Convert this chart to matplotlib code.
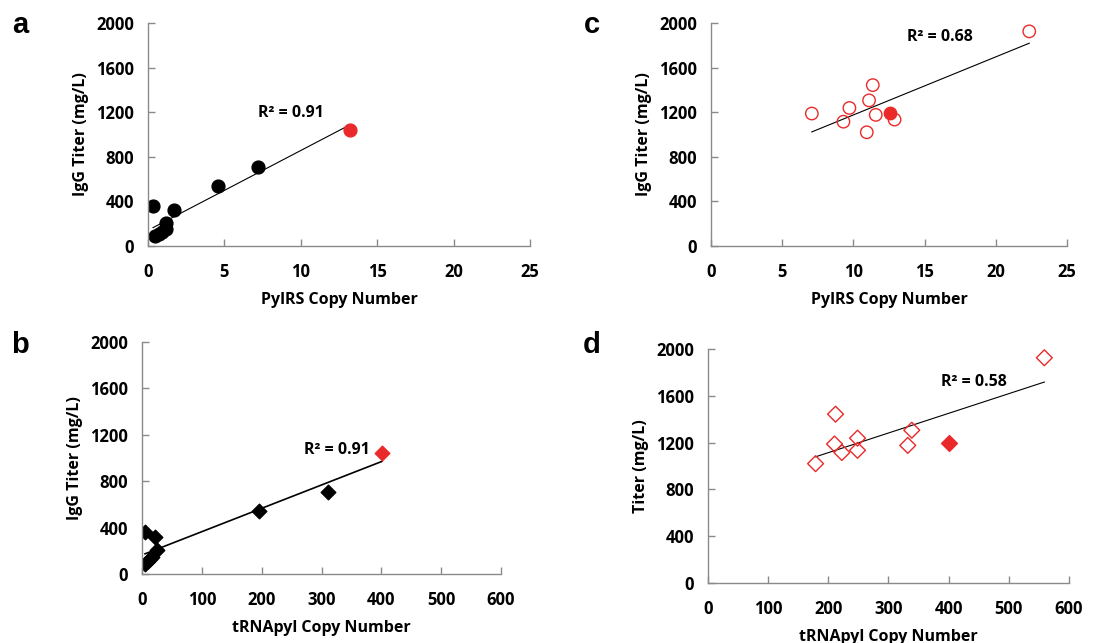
import numpy as np
import matplotlib
matplotlib.use("Agg")
import matplotlib.pyplot as plt

plt.rcParams['font.family'] = ['Open Sans', 'DejaVu Sans']
plt.rcParams['font.weight'] = 'bold'

# Panels a/b: low-titer clones (IgG mg/L), last one is the highlighted clone
ab_titer = [360, 90, 110, 130, 150, 210, 320, 540, 710, 1040]
a_pylrs = [0.33, 0.46, 0.7, 0.9, 1.15, 1.2, 1.7, 4.6, 7.2, 13.2]
b_trna = [5.5, 5.0, 10, 14, 17, 25, 21, 196, 311, 401]

# Panels c/d: high-titer clones, last one is the highlighted clone
cd_titer = [1188, 1115, 1238, 1020, 1306, 1443, 1176, 1134, 1925, 1193]
c_pylrs = [7.08, 9.3, 9.72, 10.94, 11.1, 11.36, 11.57, 12.89, 22.35, 12.58]
d_trna = [210.3, 222.5, 248.5, 178.8, 338.7, 212.0, 332.0, 248.5, 559.0, 400.0]

r2_text = {"a": "R² = 0.91", "b": "R² = 0.91", "c": "R² = 0.68", "d": "R² = 0.58"}

RED = "#ea2a2a"
GREY = "#8a8a8a"
W, H = 1119, 643
FS = 11.5
TFS = 12


def px_axes(fig, left, right, top, bottom):
    return fig.add_axes([left / W, 1 - bottom / H, (right - left) / W, (bottom - top) / H])


def style(ax, xmax, xstep, xlabel, ylabel):
    ax.set_xlim(0, xmax)
    ax.set_ylim(0, 2000)
    xt = np.arange(0, xmax + 1, xstep)
    yt = np.arange(0, 2001, 400)
    ax.set_xticks(xt, labels=[str(v) for v in xt], fontweight="bold", fontsize=TFS)
    ax.set_yticks(yt, labels=[str(v) for v in yt], fontweight="bold", fontsize=TFS)
    for s in ["top", "right"]:
        ax.spines[s].set_visible(False)
    for s in ["left", "bottom"]:
        ax.spines[s].set_color(GREY)
        ax.spines[s].set_linewidth(1.0)
    ax.tick_params(axis="both", direction="in", length=5, width=1, color=GREY)
    ax.tick_params(axis="x", pad=12)
    ax.tick_params(axis="y", pad=10)
    ax.set_xlabel(xlabel, fontsize=FS, fontweight="bold", labelpad=8)
    ax.set_ylabel(ylabel, fontsize=FS, fontweight="bold", labelpad=5)


def trend(ax, x, y, lw=0.8):
    x = np.asarray(x, float)
    y = np.asarray(y, float)
    k, b = np.polyfit(x, y, 1)
    xs = np.array([x.min(), x.max()])
    ax.plot(xs, k * xs + b, color="black", lw=lw, zorder=1)


fig = plt.figure(figsize=(W / 100, H / 100), dpi=100)

# a
ax = px_axes(fig, 148, 530, 23, 246)
trend(ax, a_pylrs, ab_titer)
ax.scatter(a_pylrs[:-1], ab_titer[:-1], s=85, color="black", zorder=2)
ax.scatter(a_pylrs[-1:], ab_titer[-1:], s=85, color=RED, zorder=2)
style(ax, 25, 5, "PylRS Copy Number", "IgG Titer (mg/L)")
ax.text(7.2, 1190, r2_text["a"], fontsize=FS, fontweight="bold", va="center")

# c
ax = px_axes(fig, 711, 1067, 23, 246)
trend(ax, c_pylrs, cd_titer)
ax.scatter(c_pylrs[:-1], cd_titer[:-1], s=80, facecolors="none", edgecolors=RED,
           linewidths=1.0, zorder=2)
ax.scatter(c_pylrs[-1:], cd_titer[-1:], s=80, color=RED, zorder=3)
style(ax, 25, 5, "PylRS Copy Number", "IgG Titer (mg/L)")
ax.text(13.75, 1875, r2_text["c"], fontsize=FS, fontweight="bold", va="center")

# b
ax = px_axes(fig, 142, 501, 342, 574)
trend(ax, b_trna, ab_titer, lw=1.2)
ax.scatter(b_trna[:-1], ab_titer[:-1], s=55, marker="D", color="black", zorder=2)
ax.scatter(b_trna[-1:], ab_titer[-1:], s=55, marker="D", color=RED, zorder=2)
style(ax, 600, 100, "tRNApyl Copy Number", "IgG Titer (mg/L)")
ax.text(381, 1067, r2_text["b"], fontsize=FS, fontweight="bold", va="center", ha="right")

# d
ax = px_axes(fig, 708, 1069, 349, 583)
trend(ax, d_trna, cd_titer)
ax.scatter(d_trna[:-1], cd_titer[:-1], s=65, marker="D", facecolors="none",
           edgecolors=RED, linewidths=1.0, zorder=2)
ax.scatter(d_trna[-1:], cd_titer[-1:], s=65, marker="D", color=RED, zorder=3)
style(ax, 600, 100, "tRNApyl Copy Number", "Titer (mg/L)")
ax.text(387, 1715, r2_text["d"], fontsize=FS, fontweight="bold", va="center")

# panel letters
for letter, (x, y) in {"a": (20, 25), "c": (592, 25), "b": (20, 345), "d": (592, 345)}.items():
    fig.text(x / W, 1 - y / H, letter, fontsize=21, fontweight="bold",
             family="Liberation Sans", ha="center", va="center")

fig.savefig("out.png", dpi=100)
